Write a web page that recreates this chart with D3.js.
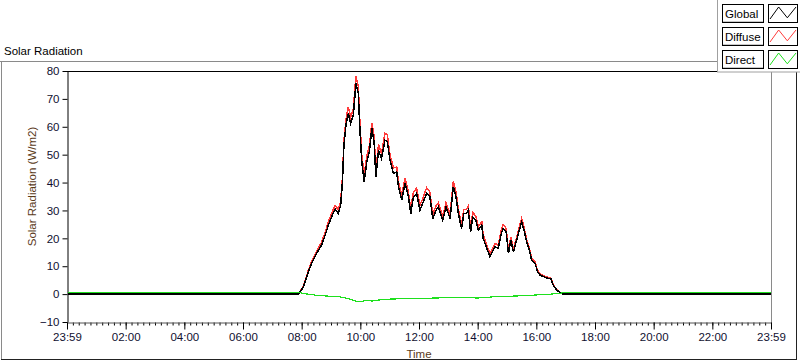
<!DOCTYPE html>
<html>
<head>
<meta charset="utf-8">
<script src="https://cdn.jsdelivr.net/npm/d3@7"></script>
<style>
  body { margin: 0; background: #fff; }
  svg { display: block; font-family: "Liberation Sans", Arial, sans-serif; }
</style>
</head>
<body>
<div id="svg-container"></div>
<script>
// hours since midnight for the Global / Diffuse readings
const hours = [0, 7.89, 8.06, 8.23, 8.34, 8.51, 8.68, 8.80, 8.91, 9.02,
  9.14, 9.25, 9.33, 9.39, 9.44, 9.51, 9.59, 9.67, 9.76, 9.85,
  9.93, 9.99, 10.05, 10.13, 10.22, 10.31, 10.39, 10.47, 10.53, 10.62,
  10.72, 10.84, 10.92, 11.01, 11.13, 11.24, 11.30, 11.41, 11.52, 11.63,
  11.72, 11.81, 11.92, 12.03, 12.15, 12.26, 12.37, 12.47, 12.58, 12.66,
  12.81, 12.92, 13.06, 13.17, 13.26, 13.34, 13.45, 13.53, 13.62, 13.68,
  13.76, 13.83, 13.94, 14.02, 14.14, 14.19, 14.31, 14.42, 14.53, 14.59,
  14.70, 14.82, 14.87, 14.97, 15.05, 15.13, 15.22, 15.33, 15.45, 15.50,
  15.58, 15.67, 15.76, 15.84, 15.96, 16.04, 16.13, 16.26, 16.41, 16.49,
  16.58, 16.70, 16.86, 16.95, 24]

const globalVals = [0, 0, 2.6, 8.0, 11, 14.6, 17.6, 21.1, 24.7, 27.7,
  30.5, 28.9, 31.9, 40.3, 53.4, 60.6, 64.8, 61.2, 64.2, 75.5,
  72, 58.2, 47.4, 40.3, 47.4, 51, 59.4, 54.6, 42, 51.6,
  48.6, 55.2, 54.6, 48, 43.3, 43.8, 38.5, 33.7, 39.7, 35.5,
  28.9, 34.9, 36.1, 30.1, 33.1, 36.1, 34.9, 27.1, 30.1, 31.3,
  26.5, 31.3, 27.1, 38.5, 35, 29, 23.5, 28.9, 28.9, 30.1,
  22.3, 27.7, 26.5, 22.9, 24.7, 20, 16.4, 13.4, 15.8, 17,
  16.4, 22.3, 23.5, 22.3, 14.6, 19.4, 15.2, 19.4, 24.1, 25.9,
  22.9, 18.7, 15.8, 12.2, 11, 8, 6.8, 6.2, 5.6, 5.6,
  3.2, 1.4, 0.2, 0, 0]

const diffuseVals = [0, 0, 2.8, 8.6, 11.8, 15.4, 18.6, 22.2, 25.8, 29,
  31.8, 30.2, 33.3, 41.8, 55.2, 62.5, 67.2, 63.4, 66.5, 78.2,
  74.6, 60.6, 49.8, 42.8, 49.6, 53.2, 61.4, 56.8, 44.2, 53.6,
  50.4, 57.6, 57.2, 50, 45.2, 45.6, 40.4, 35.4, 41.6, 37.2,
  30.6, 36.6, 38, 31.8, 34.8, 38.2, 36.6, 28.6, 31.6, 32.8,
  28, 32.8, 28.6, 40.4, 36.8, 30.6, 25, 30.4, 30.4, 31.6,
  23.8, 29.2, 28, 24.2, 26, 21.2, 17.6, 14.4, 16.8, 18.2,
  17.4, 23.6, 25, 23.6, 15.6, 20.4, 16.2, 20.4, 25.2, 27.2,
  24, 19.6, 16.6, 12.9, 11.6, 8.5, 7.2, 6.6, 5.9, 5.9,
  3.4, 1.5, 0.2, 0, 0]

// direct radiation has its own (sparser) time stamps
const directHours = [0, 7.9, 8.2, 8.5, 9.0, 9.3, 9.6, 9.8, 10.0, 10.2,
  10.4, 10.7, 11.0, 11.5, 12.0, 12.5, 13.0, 13.5, 14.0, 14.5,
  15.0, 15.5, 16.0, 16.5, 16.8, 17.0, 24]
const directVals = [0.6, 0.6, 0, -0.4, -0.8, -1.0, -1.6, -2.4, -2.8, -2.2,
  -2.5, -2.0, -1.8, -1.6, -1.7, -1.4, -1.3, -1.2, -1.4, -1.0,
  -0.8, -0.6, -0.3, 0, 0.3, 0.6, 0.6]

const seriesNames = ['Global', 'Diffuse', 'Direct']
const seriesColors = ['#000000', '#ff3b3b', '#1ee01e']

const xTickHours = [0, 2, 4, 6, 8, 10, 12, 14, 16, 18, 20, 22, 24]
const xTickLabels = ['23:59', '02:00', '04:00', '06:00', '08:00', '10:00', '12:00',
  '14:00', '16:00', '18:00', '20:00', '22:00', '23:59']
const yTicks = [-10, 0, 10, 20, 30, 40, 50, 60, 70, 80]

const width = 800, height = 361
const plot = { left: 67, right: 771, top: 71, bottom: 322 }

let svg = d3.select('#svg-container')
    .append('svg')
    .attr('width', width)
    .attr('height', height)

// outer panel frame
svg.append('line').attr('x1', 0).attr('x2', 717).attr('y1', 61.5).attr('y2', 61.5).attr('stroke', '#8a8a8a')
svg.append('line').attr('x1', 1.5).attr('x2', 1.5).attr('y1', 61).attr('y2', 360).attr('stroke', '#8a8a8a')
svg.append('line').attr('x1', 1).attr('x2', 797).attr('y1', 359.5).attr('y2', 359.5).attr('stroke', '#222')
svg.append('line').attr('x1', 796.5).attr('x2', 796.5).attr('y1', 72).attr('y2', 360).attr('stroke', '#222')

svg.append('text')
    .attr('x', 4).attr('y', 55)
    .attr('font-size', 11.5)
    .attr('fill', '#000')
    .text('Solar Radiation')

let x = d3.scaleLinear().domain([0, 24]).range([plot.left, plot.right])
let y = d3.scaleLinear().domain([-10, 80]).range([plot.bottom, plot.top])

// plot border
svg.append('line').attr('x1', plot.left).attr('x2', plot.right).attr('y1', plot.top + 0.5).attr('y2', plot.top + 0.5).attr('stroke', '#000')
svg.append('line').attr('x1', plot.right + 0.5).attr('x2', plot.right + 0.5).attr('y1', plot.top).attr('y2', plot.bottom).attr('stroke', '#8a8a8a')

// y axis
let yAxis = svg.append('g')
    .attr('transform', `translate(${plot.left + 0.5},0)`)
    .call(d3.axisLeft(y).tickValues(yTicks).tickSize(5).tickPadding(3).tickSizeOuter(0))
yAxis.select('.domain').attr('stroke', '#000')
yAxis.selectAll('.tick line').attr('stroke', '#000')
yAxis.selectAll('text').attr('font-size', 11.5).attr('fill', '#101030').attr('font-family', null)

// x axis, major + minor ticks
let minorTicks = d3.range(0, 24.01, 0.2)
let xMinor = svg.append('g')
    .attr('transform', `translate(0,${plot.bottom + 0.5})`)
    .call(d3.axisBottom(x).tickValues(minorTicks).tickSize(3).tickFormat('').tickSizeOuter(0))
xMinor.select('.domain').remove()
xMinor.selectAll('.tick line').attr('stroke', '#000')

let xAxis = svg.append('g')
    .attr('transform', `translate(0,${plot.bottom + 0.5})`)
    .call(d3.axisBottom(x).tickValues(xTickHours).tickSize(7).tickPadding(3).tickSizeOuter(0)
        .tickFormat((d, i) => xTickLabels[i]))
xAxis.select('.domain').attr('stroke', '#555')
xAxis.selectAll('.tick line').attr('stroke', '#000')
xAxis.selectAll('text').attr('font-size', 11.5).attr('fill', '#101030').attr('font-family', null)

svg.append('text')
    .attr('x', (plot.left + plot.right) / 2)
    .attr('y', 358)
    .attr('text-anchor', 'middle')
    .attr('font-size', 11.5)
    .attr('fill', '#5a3a1a')
    .text('Time')

svg.append('text')
    .attr('transform', `translate(36,${(plot.top + plot.bottom) / 2 - 10}) rotate(-90)`)
    .attr('text-anchor', 'middle')
    .attr('font-size', 11.5)
    .attr('fill', '#5a3a1a')
    .text('Solar Radiation (W/m2)')

// clip to plot area
svg.append('clipPath').attr('id', 'clip')
    .append('rect')
    .attr('x', plot.left + 1).attr('y', plot.top + 1)
    .attr('width', plot.right - plot.left - 1).attr('height', plot.bottom - plot.top - 1)

let line = d3.line()
    .x(d => x(d[0]))
    .y(d => y(d[1]))

let lines = svg.append('g').attr('clip-path', 'url(#clip)')

const seriesData = [
    d3.zip(hours, diffuseVals),
    d3.zip(hours, globalVals),
    d3.zip(directHours, directVals)
]
const drawColors = [seriesColors[1], seriesColors[0], seriesColors[2]]
const drawWidths = [1.5, 1.5, 1.2]

lines.selectAll('path')
    .data(seriesData)
    .enter()
    .append('path')
    .attr('d', line)
    .attr('fill', 'none')
    .attr('stroke', (d, i) => drawColors[i])
    .attr('stroke-width', (d, i) => drawWidths[i])
    .attr('shape-rendering', 'crispEdges')

// legend panel
let legendPanel = svg.append('g')
legendPanel.append('rect')
    .attr('x', 717.5).attr('y', -1).attr('width', 90).attr('height', 73)
    .attr('fill', '#fff').attr('stroke', '#a0a0a0')

let legend = legendPanel.selectAll('.legend')
    .data(seriesNames)
    .enter().append('g')
    .attr('class', 'legend')
    .attr('transform', (d, i) => `translate(0, ${4 + i * 23})`)

legend.append('rect')
    .attr('x', 722.5).attr('y', 0.5).attr('width', 41).attr('height', 18)
    .attr('fill', '#fff').attr('stroke', '#000')
legend.append('line')
    .attr('x1', 723).attr('x2', 763).attr('y1', 17.5).attr('y2', 17.5).attr('stroke', '#c8c8c8')
legend.append('text')
    .text(d => d)
    .attr('x', 725).attr('y', 14)
    .attr('font-size', 11.5)
    .attr('fill', '#000')

legend.append('rect')
    .attr('x', 768.5).attr('y', 0.5).attr('width', 29).attr('height', 18)
    .attr('fill', '#fff').attr('stroke', '#000')

let sx = d3.scaleLinear().domain([0, 3]).range([770, 796])
let sy = d3.scaleLinear().domain([0, 1]).range([15, 3])
let sample = d3.line().x(d => sx(d[0])).y(d => sy(d[1]))
legend.append('path')
    .attr('d', sample([[0, 0], [1, 1], [2, 0.1], [3, 1]]))
    .attr('fill', 'none')
    .attr('stroke', (d, i) => seriesColors[i])
    .attr('stroke-width', 1)
</script>
</body>
</html>
